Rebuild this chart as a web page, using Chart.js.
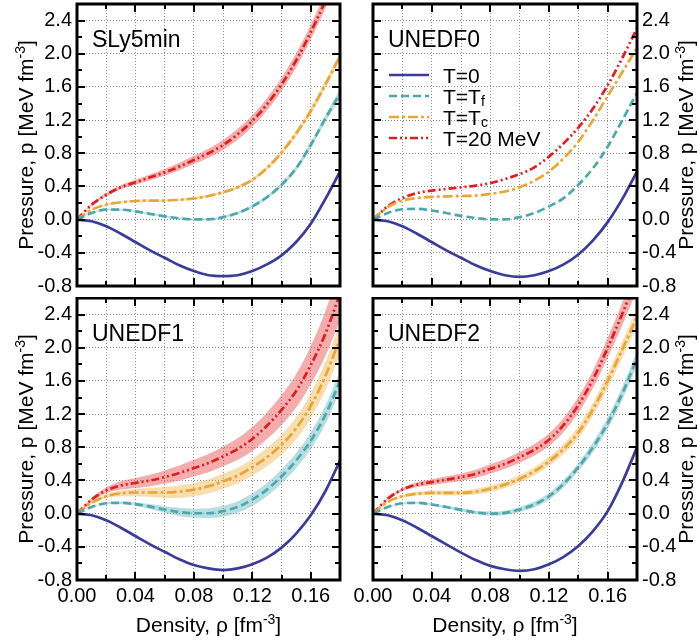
<!DOCTYPE html>
<html>
<head>
<meta charset="utf-8">
<script src="https://cdn.jsdelivr.net/npm/chart.js@4.4.1/dist/chart.umd.min.js"></script>
<style>
  html, body { margin: 0; padding: 0; background: #fff; }
  #wrap { position: relative; width: 697px; height: 642px; overflow: hidden; }
  #wrap canvas { position: absolute; }
</style>
</head>
<body>
<div id="wrap">
  <canvas id="cSLy5min" width="348" height="297" style="left:0;top:0"></canvas>
  <canvas id="cUNEDF0" width="349" height="297" style="left:348px;top:0"></canvas>
  <canvas id="cUNEDF1" width="348" height="345" style="left:0;top:297px"></canvas>
  <canvas id="cUNEDF2" width="349" height="345" style="left:348px;top:297px"></canvas>
</div>
<script>
// density grid, fm^-3
const rho = [0, 0.01, 0.02, 0.03, 0.04, 0.05, 0.06, 0.07, 0.08, 0.09,
             0.10, 0.11, 0.12, 0.13, 0.14, 0.15, 0.16, 0.17, 0.18];

// axis ticks and labels
const rhoTicks = [0, 0.02, 0.04, 0.06, 0.08, 0.10, 0.12, 0.14, 0.16, 0.18];
const rhoLabels = ['0.00', '0.04', '0.08', '0.12', '0.16'];
const pTicks = [-0.8, -0.6, -0.4, -0.2, 0, 0.2, 0.4, 0.6, 0.8, 1.0, 1.2,
                1.4, 1.6, 1.8, 2.0, 2.2, 2.4, 2.6];
const pLabels = ['-0.8', '-0.4', '0.0', '0.4', '0.8', '1.2', '1.6', '2.0', '2.4'];

// pressure [MeV fm^-3] : T=0, T=Tf, T=Tc, T=20 MeV
const sly5T0  = [0, -0.02, -0.08, -0.17, -0.27, -0.37, -0.46, -0.55, -0.62, -0.67, -0.68, -0.67, -0.62, -0.54, -0.43, -0.27, -0.05, 0.25, 0.58];
const sly5Tf  = [0, 0.08, 0.12, 0.12, 0.10, 0.07, 0.04, 0.016, 0.004, 0.004, 0.03, 0.08, 0.16, 0.27, 0.42, 0.62, 0.90, 1.22, 1.52];
const sly5Tc  = [0, 0.12, 0.18, 0.21, 0.225, 0.23, 0.23, 0.24, 0.255, 0.285, 0.33, 0.39, 0.48, 0.62, 0.81, 1.04, 1.31, 1.63, 1.97];
const sly5T20 = [0, 0.18, 0.30, 0.39, 0.45, 0.51, 0.57, 0.64, 0.72, 0.80, 0.90, 1.03, 1.19, 1.39, 1.63, 1.92, 2.26, 2.64, 3.05];

const un0T0  = [0, -0.02, -0.08, -0.17, -0.27, -0.37, -0.46, -0.55, -0.62, -0.67, -0.69, -0.67, -0.62, -0.54, -0.42, -0.25, -0.03, 0.25, 0.58];
const un0Tf  = [0, 0.08, 0.125, 0.13, 0.11, 0.08, 0.045, 0.02, 0.003, 0.003, 0.03, 0.08, 0.16, 0.26, 0.42, 0.62, 0.88, 1.20, 1.53];
const un0Tc  = [0, 0.15, 0.23, 0.26, 0.275, 0.28, 0.285, 0.29, 0.31, 0.34, 0.39, 0.47, 0.58, 0.74, 0.94, 1.20, 1.49, 1.78, 2.07];
const un0T20 = [0, 0.16, 0.26, 0.32, 0.35, 0.37, 0.39, 0.41, 0.44, 0.49, 0.55, 0.63, 0.76, 0.92, 1.11, 1.34, 1.62, 1.95, 2.31];

const un1T0  = [0, -0.02, -0.08, -0.17, -0.27, -0.37, -0.46, -0.55, -0.62, -0.66, -0.68, -0.66, -0.61, -0.53, -0.41, -0.24, -0.02, 0.27, 0.64];
const un1Tf  = [0, 0.08, 0.125, 0.13, 0.115, 0.085, 0.05, 0.02, 0.005, 0.005, 0.03, 0.08, 0.17, 0.29, 0.45, 0.64, 0.88, 1.19, 1.60];
const un1Tc  = [0, 0.13, 0.21, 0.245, 0.255, 0.255, 0.255, 0.265, 0.29, 0.33, 0.39, 0.46, 0.56, 0.68, 0.83, 1.03, 1.30, 1.66, 2.11];
const un1T20 = [0, 0.17, 0.28, 0.34, 0.37, 0.40, 0.44, 0.49, 0.55, 0.61, 0.69, 0.78, 0.90, 1.06, 1.25, 1.48, 1.79, 2.17, 2.65];

const un2T0  = [0, -0.02, -0.08, -0.17, -0.27, -0.37, -0.47, -0.56, -0.63, -0.67, -0.69, -0.67, -0.61, -0.52, -0.39, -0.21, 0.03, 0.38, 0.80];
const un2Tf  = [0, 0.08, 0.125, 0.13, 0.11, 0.08, 0.045, 0.015, 0.0, 0.01, 0.05, 0.11, 0.21, 0.36, 0.56, 0.80, 1.09, 1.45, 1.87];
const un2Tc  = [0, 0.14, 0.21, 0.24, 0.25, 0.25, 0.25, 0.265, 0.30, 0.35, 0.42, 0.51, 0.63, 0.78, 0.98, 1.26, 1.60, 1.98, 2.37];
const un2T20 = [0, 0.18, 0.29, 0.35, 0.38, 0.41, 0.44, 0.48, 0.54, 0.60, 0.68, 0.77, 0.89, 1.07, 1.31, 1.62, 2.00, 2.41, 2.85];

// half widths of the uncertainty bands
const sly5T0Err  = [0, 0, 0, 0, 0, 0, 0, 0, 0, 0, 0, 0, 0, 0.005, 0.01, 0.015, 0.02, 0.03, 0.04];
const sly5TfErr  = [0, 0.005, 0.01, 0.01, 0.01, 0.01, 0.01, 0.01, 0.01, 0.01, 0.015, 0.015, 0.02, 0.02, 0.025, 0.03, 0.035, 0.04, 0.045];
const sly5TcErr  = [0, 0.005, 0.01, 0.01, 0.01, 0.01, 0.01, 0.01, 0.015, 0.015, 0.015, 0.02, 0.02, 0.025, 0.03, 0.035, 0.04, 0.045, 0.05];
const sly5T20Err = [0, 0.01, 0.02, 0.025, 0.03, 0.035, 0.04, 0.045, 0.05, 0.055, 0.06, 0.065, 0.07, 0.075, 0.08, 0.085, 0.09, 0.095, 0.1];

const un1TfErr  = [0, 0.005, 0.01, 0.015, 0.02, 0.03, 0.04, 0.05, 0.055, 0.06, 0.065, 0.07, 0.075, 0.08, 0.085, 0.09, 0.10, 0.11, 0.12];
const un1TcErr  = [0, 0.015, 0.025, 0.035, 0.045, 0.055, 0.065, 0.075, 0.08, 0.085, 0.09, 0.095, 0.10, 0.11, 0.12, 0.135, 0.15, 0.17, 0.19];
const un1T20Err = [0, 0.02, 0.035, 0.05, 0.06, 0.07, 0.08, 0.09, 0.10, 0.11, 0.12, 0.13, 0.145, 0.16, 0.18, 0.20, 0.23, 0.27, 0.32];

const un2T0Err  = [0, 0, 0, 0, 0, 0, 0, 0, 0, 0, 0, 0, 0, 0, 0.005, 0.01, 0.015, 0.025, 0.035];
const un2TfErr  = [0, 0.005, 0.01, 0.01, 0.015, 0.015, 0.02, 0.02, 0.025, 0.025, 0.03, 0.035, 0.04, 0.045, 0.05, 0.06, 0.07, 0.08, 0.09];
const un2TcErr  = [0, 0.01, 0.015, 0.02, 0.025, 0.03, 0.03, 0.035, 0.04, 0.04, 0.045, 0.05, 0.055, 0.06, 0.07, 0.08, 0.09, 0.10, 0.11];
const un2T20Err = [0, 0.01, 0.02, 0.03, 0.035, 0.04, 0.045, 0.05, 0.055, 0.06, 0.065, 0.07, 0.075, 0.085, 0.095, 0.105, 0.12, 0.135, 0.15];

// legend entries, second part is a subscript
const legendText = [['T=0', ''], ['T=T', 'f'], ['T=T', 'c'], ['T=20 MeV', '']];

const FONT = '"Liberation Sans", Arial, Helvetica, sans-serif';
Chart.defaults.font.family = FONT;

const styles = [
  { color: '#3b3b99', band: 'rgba(80,80,170,0.35)', dash: [] },
  { color: '#4ba8ae', band: 'rgba(80,172,178,0.40)', dash: [8, 4] },
  { color: '#e8a735', band: 'rgba(238,176,64,0.42)', dash: [10, 3, 3, 3] },
  { color: '#e31c1f', band: 'rgba(234,92,92,0.50)', dash: [8, 3, 2, 3, 2, 3] }
];

const clear = 'rgba(0,0,0,0)';
const gridGray = '#8e8e8e';

function fmtP(v) {
  if (Math.abs(v) < 1e-9) return '0.0';
  return v.toFixed(1);
}

function buildDatasets(values, errors) {
  const sets = [];
  values.forEach((vals, i) => {
    sets.push({
      data: vals.map((v, k) => ({ x: rho[k], y: v })),
      borderColor: styles[i].color,
      borderWidth: 2.7,
      borderDash: styles[i].dash,
      fill: false,
      order: 0
    });
  });
  if (errors) {
    errors.forEach((err, i) => {
      if (!err) return;
      const vals = values[i];
      sets.push({
        data: vals.map((v, k) => ({ x: rho[k], y: v - err[k] })),
        borderColor: clear, borderWidth: 1, fill: false, order: 1
      });
      sets.push({
        data: vals.map((v, k) => ({ x: rho[k], y: v + err[k] })),
        borderColor: clear, borderWidth: 1,
        backgroundColor: styles[i].band, fill: '-1', order: 1
      });
    });
  }
  return sets;
}

// text with a superscript, centred on (cx, cy); cy is the baseline
function drawSupText(ctx, main, sup, tail, cx, cy, rotate) {
  ctx.save();
  ctx.translate(cx, cy);
  if (rotate) ctx.rotate(-Math.PI / 2);
  const big = '21px ' + FONT, small = '14px ' + FONT;
  ctx.font = big;
  const w1 = ctx.measureText(main).width, w3 = ctx.measureText(tail).width;
  ctx.font = small;
  const w2 = ctx.measureText(sup).width;
  let xx = -(w1 + w2 + w3) / 2;
  ctx.textAlign = 'left';
  ctx.textBaseline = 'alphabetic';
  ctx.fillStyle = '#000';
  ctx.font = big; ctx.fillText(main, xx, 0); xx += w1;
  ctx.font = small; ctx.fillText(sup, xx, -8); xx += w2;
  ctx.font = big; ctx.fillText(tail, xx, 0);
  ctx.restore();
}

// frame, inward ticks, axis titles, panel name and legend
function panelDecor(name, side, bottomRow, withLegend) {
  return {
    id: 'decor',
    afterDraw(chart) {
      const ctx = chart.ctx;
      const a = chart.chartArea;
      const x = chart.scales.x, y = chart.scales.y;
      ctx.save();
      ctx.strokeStyle = '#000';
      ctx.setLineDash([]);
      ctx.lineWidth = 2;
      ctx.beginPath();
      rhoTicks.forEach(v => {
        const px = Math.round(x.getPixelForValue(v));
        const len = rhoLabels.includes(v.toFixed(2)) ? 8 : 5;
        ctx.moveTo(px, a.bottom); ctx.lineTo(px, a.bottom - len);
        ctx.moveTo(px, a.top); ctx.lineTo(px, a.top + len);
      });
      pTicks.forEach(v => {
        const py = Math.round(y.getPixelForValue(v));
        const len = pLabels.includes(fmtP(v)) ? 8 : 5;
        ctx.moveTo(a.left, py); ctx.lineTo(a.left + len, py);
        ctx.moveTo(a.right, py); ctx.lineTo(a.right - len, py);
      });
      ctx.stroke();
      ctx.lineWidth = 3;
      ctx.strokeRect(a.left, a.top, a.right - a.left, a.bottom - a.top);

      ctx.fillStyle = '#000';
      ctx.font = '23px ' + FONT;
      ctx.textAlign = 'left';
      ctx.textBaseline = 'alphabetic';
      ctx.fillText(name, a.left + 15, a.top + 43);

      const midY = (a.top + a.bottom) / 2;
      const titleX = side === 'left' ? 33 : a.right + 56;
      drawSupText(ctx, 'Pressure, p [MeV fm', '-3', ']', titleX, midY, true);
      if (bottomRow) {
        drawSupText(ctx, 'Density, \u03c1 [fm', '-3', ']', (a.left + a.right) / 2, a.bottom + 52, false);
      }

      if (withLegend) {
        legendText.forEach((entry, i) => {
          const rowY = a.top + 71 + i * 21;
          ctx.strokeStyle = styles[i].color;
          ctx.lineWidth = 2.7;
          ctx.setLineDash(styles[i].dash);
          ctx.beginPath();
          ctx.moveTo(a.left + 16, rowY);
          ctx.lineTo(a.left + 56, rowY);
          ctx.stroke();
          ctx.setLineDash([]);
          ctx.fillStyle = '#000';
          ctx.font = '21px ' + FONT;
          ctx.fillText(entry[0], a.left + 70, rowY + 7.5);
          if (entry[1]) {
            const w = ctx.measureText(entry[0]).width;
            ctx.font = '14px ' + FONT;
            ctx.fillText(entry[1], a.left + 70 + w, rowY + 10);
          }
        });
      }
      ctx.restore();
    }
  };
}

function makePanel(canvasId, name, values, errors, side, bottomRow, withLegend, pad) {
  const tickFont = { family: FONT, size: 20 };
  new Chart(document.getElementById(canvasId), {
    type: 'line',
    data: { datasets: buildDatasets(values, errors) },
    options: {
      responsive: false,
      animation: false,
      devicePixelRatio: 1,
      events: [],
      layout: { autoPadding: false, padding: pad },
      elements: {
        point: { radius: 0 },
        line: { cubicInterpolationMode: 'monotone', borderCapStyle: 'butt' }
      },
      plugins: { legend: { display: false }, tooltip: { enabled: false } },
      scales: {
        x: {
          type: 'linear', min: 0, max: 0.18,
          afterBuildTicks: s => { s.ticks = rhoTicks.map(v => ({ value: v })); },
          afterFit: s => {
            s.height = bottomRow ? 62 : 11;
            s.paddingLeft = 0; s.paddingRight = 0;
          },
          grid: {
            drawTicks: false, lineWidth: 1,
            color: c => (c.tick && c.tick.value > 0 && c.tick.value < 0.18) ? gridGray : clear
          },
          border: { display: false, dash: [1, 2] },
          ticks: {
            display: bottomRow, autoSkip: false, maxRotation: 0, minRotation: 0,
            padding: 4, color: '#000', font: tickFont,
            callback: v => rhoLabels.includes(Number(v).toFixed(2)) ? Number(v).toFixed(2) : ''
          }
        },
        y: {
          type: 'linear', position: side, min: -0.8, max: 2.6,
          afterBuildTicks: s => { s.ticks = pTicks.map(v => ({ value: v })); },
          afterFit: s => {
            s.width = side === 'left' ? 77 : 60;
            s.paddingTop = 0; s.paddingBottom = 0;
          },
          grid: {
            drawTicks: false, lineWidth: 1,
            color: c => {
              if (!c.tick) return clear;
              const v = c.tick.value;
              return (v > -0.79 && pLabels.includes(fmtP(v))) ? gridGray : clear;
            }
          },
          border: { display: false, dash: [1, 2] },
          ticks: {
            autoSkip: false, padding: 5, color: '#000', font: tickFont,
            callback: v => pLabels.includes(fmtP(v)) ? fmtP(v) : ''
          }
        }
      }
    },
    plugins: [panelDecor(name, side, bottomRow, withLegend)]
  });
}

makePanel('cSLy5min', 'SLy5min', [sly5T0, sly5Tf, sly5Tc, sly5T20],
  [sly5T0Err, sly5TfErr, sly5TcErr, sly5T20Err], 'left', false, false,
  { left: 0, right: 8, top: 4, bottom: 0 });
makePanel('cUNEDF0', 'UNEDF0', [un0T0, un0Tf, un0Tc, un0T20],
  null, 'right', false, true,
  { left: 25, right: 0, top: 4, bottom: 0 });
makePanel('cUNEDF1', 'UNEDF1', [un1T0, un1Tf, un1Tc, un1T20],
  [null, un1TfErr, un1TcErr, un1T20Err], 'left', true, false,
  { left: 0, right: 8, top: 1, bottom: 0 });
makePanel('cUNEDF2', 'UNEDF2', [un2T0, un2Tf, un2Tc, un2T20],
  [un2T0Err, un2TfErr, un2TcErr, un2T20Err], 'right', true, false,
  { left: 25, right: 0, top: 1, bottom: 0 });
</script>
</body>
</html>
